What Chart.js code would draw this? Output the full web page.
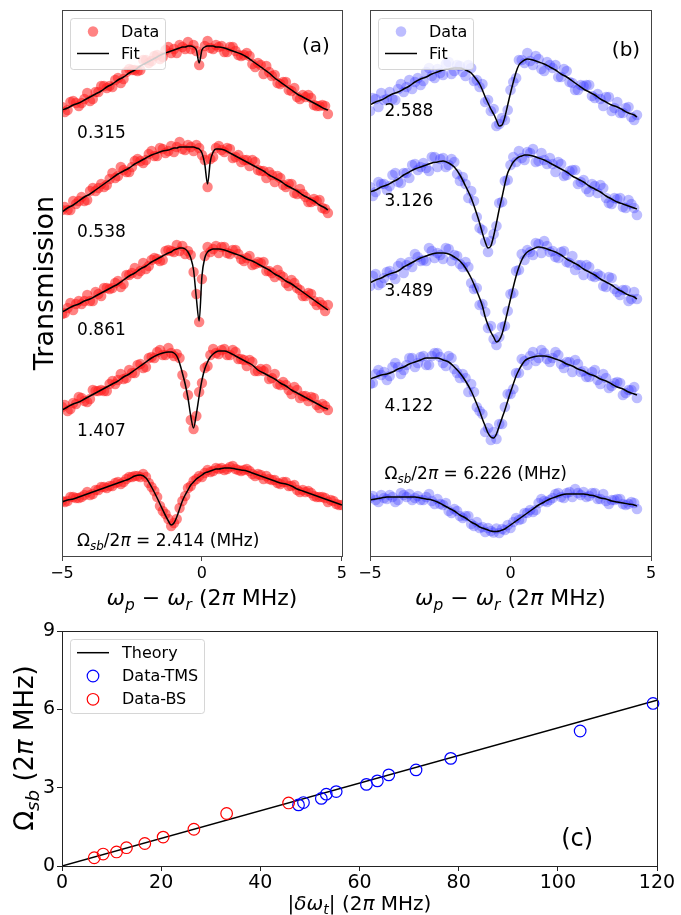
<!DOCTYPE html>
<html>
<head>
<meta charset="utf-8">
<script src="https://cdn.jsdelivr.net/npm/chart.js@4.4.0/dist/chart.umd.min.js"></script>
<style>
html, body { margin: 0; padding: 0; background: #fff; }
#fig { position: relative; width: 681px; height: 915px; overflow: hidden; }
canvas { position: absolute; }
#ca { left: 0; top: 0; }
#cb { left: 350px; top: 0; }
#cc { left: 0; top: 610px; }
</style>
</head>
<body>
<div id="fig">
  <canvas id="ca" width="350" height="620"></canvas>
  <canvas id="cb" width="331" height="620"></canvas>
  <canvas id="cc" width="681" height="305"></canvas>
</div>
<script>
// probe detuning grid (2π MHz), shared by every sweep
const sweepX = [-5.0,-4.8,-4.6,-4.4,-4.2,-4.0,-3.8,-3.6,-3.4,-3.2,-3.0,-2.8,-2.6,-2.4,-2.2,-2.0,-1.8,-1.6,-1.4,-1.2,
  -1.1,-1.0,-0.9,-0.8,-0.7,-0.6,-0.5,-0.4,-0.3,-0.2,-0.1,0.0,0.1,0.2,0.3,0.4,0.5,0.6,
  0.8,1.0,1.2,1.4,1.6,1.8,2.0,2.2,2.4,2.6,2.8,3.0,3.2,3.4,3.6,3.8,4.0,4.2,4.4,4.5,4.6,4.8,5.0];
// interleaved points of the second pass over the wings
const sweepMid = [-4.9,-4.7,-4.5,-4.3,-4.1,-3.9,-3.7,-3.5,-3.3,-3.1,-2.9,-2.7,-2.5,-2.3,-2.1,-1.9,-1.7,-1.5,-1.3,
  0.7,0.9,1.1,1.3,1.5,1.7,1.9,2.1,2.3,2.5,2.7,2.9,3.1,3.3,3.5,3.7,3.9,4.1,4.3,4.7,4.9];

// vertical stacking of the five sweeps in each panel (top to bottom)
const stackOffsets = [4, 3, 2, 1, 0];

// coupling strengths Ω_sb/2π (MHz) for the stacked sweeps
const bsCoupling = [0.315, 0.538, 0.861, 1.407, 2.414];
const tmsCoupling = [2.588, 3.126, 3.489, 4.122, 6.226];

// (a) beam-splitter sweeps: fitted curves
const redFit1 = [0.46,0.48,0.51,0.53,0.56,0.59,0.62,0.65,0.69,0.72,0.76,0.79,0.83,0.86,0.90,0.93,0.96,0.99,1.02,1.04,
  1.05,1.06,1.07,1.08,1.09,1.09,1.10,1.10,1.09,1.06,0.93,1.06,1.09,1.10,1.10,1.10,1.09,1.09,
  1.08,1.06,1.04,1.02,0.99,0.95,0.91,0.87,0.83,0.78,0.74,0.70,0.66,0.62,0.59,0.56,0.53,0.50,0.47,0.46];
const redFit2 = [0.44,0.48,0.51,0.55,0.59,0.62,0.66,0.70,0.74,0.78,0.82,0.85,0.88,0.92,0.95,0.98,1.01,1.03,1.05,1.06,
  1.07,1.08,1.08,1.09,1.09,1.09,1.09,1.09,1.09,1.08,1.07,1.03,0.92,0.72,0.95,1.04,1.07,1.07,
  1.06,1.03,1.00,0.97,0.94,0.91,0.88,0.85,0.81,0.78,0.75,0.71,0.68,0.65,0.61,0.58,0.55,0.51,0.48,0.46];
const redFit3 = [0.44,0.47,0.50,0.52,0.55,0.57,0.60,0.63,0.66,0.69,0.72,0.76,0.80,0.83,0.87,0.90,0.94,0.97,1.00,1.03,
  1.04,1.06,1.07,1.08,1.08,1.07,1.04,0.98,0.86,0.58,0.35,0.80,0.98,1.04,1.06,1.07,1.07,1.07,
  1.06,1.04,1.02,1.00,0.97,0.95,0.92,0.89,0.86,0.82,0.79,0.75,0.72,0.68,0.64,0.60,0.56,0.52,0.48,0.46];
const redFit4 = [0.46,0.49,0.52,0.54,0.57,0.60,0.63,0.66,0.69,0.72,0.75,0.79,0.82,0.86,0.90,0.94,0.98,1.01,1.03,1.04,
  1.04,1.03,1.00,0.93,0.83,0.72,0.58,0.40,0.28,0.42,0.60,0.76,0.87,0.94,0.99,1.02,1.04,1.05,
  1.05,1.03,1.00,0.97,0.94,0.91,0.86,0.83,0.80,0.77,0.73,0.70,0.66,0.63,0.60,0.57,0.54,0.51,0.48,0.47];
const redFit5 = [0.54,0.56,0.57,0.59,0.61,0.63,0.65,0.67,0.69,0.71,0.73,0.75,0.77,0.80,0.81,0.78,0.69,0.58,0.46,0.35,
  0.31,0.33,0.39,0.47,0.55,0.61,0.66,0.71,0.74,0.77,0.79,0.81,0.83,0.84,0.85,0.86,0.87,0.87,
  0.88,0.88,0.87,0.86,0.85,0.83,0.81,0.79,0.77,0.75,0.73,0.72,0.70,0.67,0.65,0.63,0.61,0.59,0.57,0.56,
  0.55,0.53,0.51];

// (a) beam-splitter sweeps: measured transmission on sweepX
const redData1 = [0.49,0.46,0.55,0.50,0.57,0.55,0.64,0.70,0.68,0.69,0.78,0.77,0.87,0.86,0.86,0.96,0.95,1.01,0.99,1.09,
  1.03,1.07,1.03,1.11,1.09,1.07,1.14,1.07,1.11,1.05,0.91,1.02,1.10,1.15,1.08,1.07,1.11,1.09,
  1.04,1.09,1.05,1.00,1.03,0.92,0.93,0.82,0.84,0.81,0.72,0.74,0.65,0.59,0.61,0.61,0.51,0.50,0.50,0.42];
const redData2 = [0.46,0.46,0.55,0.55,0.55,0.65,0.65,0.72,0.71,0.83,0.80,0.86,0.84,0.95,0.95,0.96,1.05,1.00,1.07,1.05,
  1.10,1.04,1.09,1.14,1.07,1.06,1.11,1.09,1.05,1.11,1.08,1.01,0.96,0.69,0.97,0.99,1.08,1.10,
  1.04,1.07,0.99,0.94,0.96,0.96,0.86,0.85,0.84,0.74,0.78,0.69,0.72,0.62,0.62,0.54,0.57,0.56,0.47,0.43];
const redData3 = [0.42,0.48,0.46,0.55,0.55,0.55,0.64,0.60,0.68,0.68,0.75,0.72,0.81,0.88,0.85,0.87,0.96,0.97,0.96,1.06,
  1.05,1.04,1.11,1.05,1.10,1.02,1.05,1.01,0.84,0.62,0.34,0.77,1.00,1.09,1.04,1.07,1.10,1.03,
  1.09,1.02,1.06,0.97,0.98,0.91,0.94,0.94,0.85,0.79,0.81,0.73,0.76,0.68,0.60,0.63,0.55,0.54,0.45,0.51];
const redData4 = [0.49,0.45,0.53,0.59,0.55,0.57,0.65,0.66,0.65,0.75,0.76,0.77,0.86,0.83,0.92,0.89,0.99,1.04,1.01,1.08,
  1.03,1.00,1.02,0.98,0.81,0.72,0.61,0.36,0.27,0.40,0.64,0.73,0.88,0.90,1.01,1.07,1.03,1.02,
  1.07,1.01,1.04,0.97,0.90,0.94,0.85,0.85,0.77,0.82,0.71,0.71,0.62,0.66,0.60,0.55,0.58,0.48,0.50,0.46];
const redData5 = [0.55,0.55,0.59,0.58,0.61,0.61,0.66,0.69,0.68,0.70,0.74,0.74,0.79,0.80,0.79,0.79,0.69,0.59,0.45,0.37,
  0.30,0.33,0.37,0.48,0.55,0.60,0.68,0.70,0.75,0.77,0.80,0.79,0.83,0.86,0.84,0.85,0.88,0.87,
  0.86,0.89,0.87,0.85,0.87,0.82,0.82,0.77,0.77,0.76,0.72,0.74,0.70,0.66,0.66,0.65,0.60,0.59,0.58,0.54,
  0.56,0.52,0.51];

// (a) measured transmission on sweepMid
const redMid1 = [0.44,0.54,0.53,0.53,0.63,0.57,0.64,0.70,0.70,0.76,0.73,0.84,0.86,0.85,0.96,0.93,1.00,0.97,1.06,
  1.10,1.04,1.09,1.01,1.01,1.00,0.89,0.91,0.90,0.80,0.73,0.74,0.66,0.68,0.57,0.59,0.58,0.50,0.51];
const redMid2 = [0.49,0.46,0.52,0.59,0.56,0.68,0.68,0.69,0.77,0.78,0.89,0.84,0.89,0.97,0.93,1.02,1.00,1.08,1.03,
  1.06,1.08,0.98,1.01,0.96,0.90,0.94,0.85,0.78,0.81,0.80,0.71,0.72,0.63,0.67,0.59,0.54,0.55,0.48];
const redMid3 = [0.43,0.53,0.52,0.52,0.61,0.55,0.62,0.68,0.67,0.73,0.69,0.81,0.83,0.82,0.93,0.90,0.98,0.95,1.05,
  1.09,1.03,1.06,1.02,0.95,1.00,0.92,0.93,0.85,0.83,0.86,0.79,0.70,0.73,0.66,0.60,0.62,0.51,0.51];
const redMid4 = [0.51,0.47,0.52,0.58,0.54,0.66,0.65,0.65,0.72,0.72,0.82,0.78,0.83,0.91,0.88,0.98,0.98,1.06,1.01,
  1.06,1.01,1.06,0.97,0.96,0.96,0.85,0.87,0.87,0.78,0.72,0.74,0.66,0.69,0.58,0.60,0.59,0.51,0.52];
const redMid5 = [0.54,0.59,0.58,0.59,0.64,0.62,0.66,0.69,0.70,0.73,0.72,0.77,0.79,0.80,0.82,0.73,0.65,0.50,0.42,
  0.88,0.87,0.90,0.86,0.86,0.85,0.80,0.81,0.80,0.76,0.73,0.74,0.70,0.71,0.64,0.64,0.63,0.59,0.59,0.55,0.51];

// (b) two-mode-squeezing sweeps: fitted curves
const blueFit1 = [0.51,0.54,0.56,0.59,0.62,0.64,0.67,0.70,0.74,0.77,0.79,0.82,0.84,0.86,0.87,0.88,0.88,0.86,0.83,0.76,
  0.72,0.66,0.59,0.53,0.47,0.42,0.36,0.30,0.31,0.39,0.51,0.63,0.74,0.84,0.91,0.94,0.96,0.97,
  0.96,0.94,0.92,0.89,0.86,0.82,0.79,0.75,0.71,0.67,0.64,0.61,0.57,0.54,0.51,0.49,0.46,0.43,0.41,0.39];
const blueFit2 = [0.64,0.66,0.69,0.71,0.74,0.77,0.81,0.84,0.87,0.89,0.91,0.93,0.94,0.95,0.93,0.89,0.81,0.70,0.58,0.42,
  0.33,0.23,0.14,0.08,0.10,0.20,0.33,0.47,0.59,0.72,0.83,0.89,0.94,0.97,0.99,1.00,1.01,1.01,
  1.00,0.98,0.96,0.93,0.90,0.87,0.84,0.80,0.77,0.74,0.70,0.67,0.64,0.60,0.57,0.54,0.52,0.50,0.48,0.47];
const blueFit3 = [0.73,0.76,0.78,0.81,0.83,0.85,0.89,0.92,0.95,0.98,1.00,1.02,1.03,1.03,1.02,0.99,0.95,0.88,0.78,0.65,
  0.58,0.50,0.39,0.31,0.24,0.19,0.14,0.16,0.22,0.33,0.45,0.57,0.69,0.80,0.89,0.96,1.01,1.04,
  1.07,1.09,1.08,1.06,1.04,1.01,0.97,0.94,0.91,0.87,0.84,0.81,0.77,0.74,0.71,0.67,0.64,0.61,0.59,0.57];
const blueFit4 = [0.77,0.79,0.81,0.82,0.84,0.87,0.89,0.92,0.94,0.96,0.98,0.98,0.98,0.96,0.94,0.89,0.83,0.75,0.65,0.52,
  0.45,0.37,0.30,0.23,0.19,0.18,0.22,0.30,0.38,0.46,0.55,0.64,0.72,0.80,0.86,0.91,0.95,0.97,
  0.99,1.00,1.00,0.99,0.97,0.95,0.92,0.90,0.87,0.85,0.82,0.80,0.77,0.75,0.72,0.69,0.67,0.64,0.62,0.61];
const blueFit5 = [0.56,0.57,0.58,0.59,0.59,0.59,0.59,0.59,0.59,0.58,0.57,0.56,0.54,0.51,0.48,0.45,0.41,0.38,0.34,0.31,
  0.29,0.28,0.27,0.26,0.25,0.245,0.245,0.25,0.26,0.27,0.29,0.31,0.33,0.35,0.37,0.39,0.41,0.43,
  0.47,0.51,0.54,0.57,0.59,0.61,0.62,0.62,0.62,0.62,0.61,0.60,0.58,0.57,0.55,0.54,0.53,0.52,0.51,0.50];

// (b) measured transmission on sweepX
const blueData1 = [0.45,0.57,0.63,0.57,0.57,0.67,0.64,0.76,0.74,0.71,0.84,0.80,0.87,0.81,0.94,0.85,0.90,0.80,0.88,0.76,
  0.69,0.72,0.54,0.56,0.45,0.47,0.30,0.32,0.38,0.36,0.46,0.66,0.74,0.78,0.96,0.96,0.93,1.03,
  0.91,0.97,0.85,0.91,0.91,0.79,0.85,0.73,0.66,0.70,0.71,0.58,0.57,0.59,0.45,0.54,0.43,0.49,0.36,0.41];
const blueData2 = [0.69,0.64,0.72,0.66,0.81,0.74,0.83,0.78,0.92,0.89,0.88,0.99,0.89,0.98,0.91,0.94,0.75,0.72,0.65,0.39,
  0.28,0.26,0.14,0.04,0.15,0.22,0.30,0.53,0.54,0.75,0.76,0.91,0.99,0.94,1.05,0.98,0.96,1.04,
  1.07,0.95,0.96,0.98,0.84,0.92,0.81,0.86,0.72,0.76,0.64,0.70,0.71,0.58,0.52,0.57,0.49,0.56,0.48,0.41];
const blueData3 = [0.70,0.82,0.73,0.84,0.81,0.90,0.83,0.94,1.02,0.95,0.95,1.05,1.03,0.97,1.07,1.01,0.92,0.94,0.73,0.68,
  0.51,0.52,0.44,0.28,0.30,0.17,0.11,0.19,0.29,0.30,0.45,0.62,0.63,0.85,0.86,1.02,0.96,1.06,
  1.01,1.12,1.15,1.04,0.99,1.04,0.94,1.00,0.91,0.81,0.89,0.79,0.80,0.69,0.78,0.64,0.66,0.55,0.64,0.57];
const blueData4 = [0.72,0.82,0.81,0.76,0.89,0.89,0.86,0.98,0.89,0.99,0.91,1.00,1.03,0.93,1.00,0.87,0.78,0.78,0.72,0.49,
  0.45,0.42,0.24,0.28,0.16,0.24,0.17,0.32,0.32,0.49,0.62,0.62,0.67,0.83,0.83,0.97,0.95,0.91,
  1.04,0.98,1.03,0.94,1.04,0.92,0.94,0.84,0.92,0.85,0.79,0.86,0.72,0.78,0.70,0.74,0.61,0.66,0.69,0.58];
const blueData5 = [0.58,0.56,0.61,0.57,0.59,0.56,0.61,0.62,0.58,0.56,0.59,0.55,0.57,0.51,0.45,0.47,0.40,0.40,0.32,0.34,
  0.28,0.29,0.24,0.28,0.25,0.235,0.275,0.23,0.27,0.26,0.31,0.28,0.34,0.38,0.36,0.37,0.43,0.43,
  0.44,0.53,0.55,0.56,0.62,0.59,0.63,0.59,0.63,0.64,0.60,0.63,0.57,0.55,0.56,0.57,0.52,0.52,0.53,0.47];

// (b) measured transmission on sweepMid
const blueMid1 = [0.58,0.49,0.56,0.64,0.56,0.72,0.69,0.67,0.78,0.75,0.88,0.78,0.83,0.92,0.82,0.91,0.84,0.91,0.75,
  0.95,1.00,0.87,0.94,0.88,0.79,0.87,0.74,0.66,0.71,0.71,0.60,0.62,0.50,0.59,0.48,0.43,0.48,0.39];
const blueMid2 = [0.60,0.74,0.72,0.70,0.83,0.73,0.83,0.91,0.86,0.93,0.85,0.99,0.97,0.89,0.97,0.82,0.79,0.58,0.55,
  1.03,0.94,1.03,0.92,0.92,0.94,0.80,0.85,0.86,0.74,0.67,0.72,0.63,0.68,0.53,0.58,0.58,0.48,0.52];
const blueMid3 = [0.80,0.71,0.78,0.85,0.77,0.93,0.91,0.89,0.99,0.96,1.08,0.98,1.01,1.08,0.95,1.00,0.89,0.89,0.67,
  1.04,1.13,1.03,1.10,1.05,0.98,1.05,0.93,0.86,0.91,0.91,0.80,0.82,0.70,0.79,0.67,0.61,0.66,0.57];
const blueMid4 = [0.73,0.86,0.84,0.80,0.93,0.82,0.91,0.98,0.93,1.00,0.91,1.03,0.99,0.90,0.98,0.83,0.82,0.64,0.64,
  1.00,0.95,1.06,0.97,0.98,1.01,0.88,0.94,0.96,0.84,0.79,0.84,0.76,0.82,0.68,0.73,0.73,0.63,0.66];
const blueMid5 = [0.60,0.54,0.58,0.61,0.54,0.63,0.59,0.56,0.60,0.56,0.62,0.52,0.52,0.53,0.43,0.45,0.38,0.40,0.30,
  0.46,0.46,0.57,0.54,0.58,0.63,0.58,0.64,0.67,0.61,0.59,0.63,0.57,0.62,0.52,0.56,0.57,0.51,0.54];

// (c) coupling vs detuning
const theoryX = [0, 120];
const theoryY = [0, 6.35];
const tmsX = [47.7, 48.7, 52.3, 53.3, 55.3, 61.4, 63.6, 65.9, 71.4, 78.4, 104.5, 119.2];
const tmsY = [2.34, 2.43, 2.588, 2.75, 2.85, 3.126, 3.26, 3.489, 3.68, 4.122, 5.17, 6.226];
const bsX = [6.5, 8.3, 11.0, 13.0, 16.7, 20.4, 26.6, 33.2, 45.7];
const bsY = [0.315, 0.458, 0.538, 0.70, 0.861, 1.107, 1.407, 2.01, 2.414];

const FONT = '"DejaVu Sans"';
Chart.defaults.font.family = FONT;
Chart.defaults.color = '#000';

const minus = v => (v < 0 ? '\u2212' + Math.abs(v) : String(v));

function toPts(xs, ys, off) {
  return ys.map((y, i) => ({ x: xs[i], y: y + off }));
}

// mathtext-like runs: [text, style] where style has 'i' (italic) and/or 's' (subscript)
function segFont(st, size) {
  const s = st.includes('s') ? size * 0.7 : size;
  return (st.includes('i') ? 'italic ' : '') + s.toFixed(1) + 'px ' + FONT;
}
function drawRich(ctx, segs, x, y, size, align, rot) {
  ctx.save();
  ctx.translate(x, y);
  if (rot) ctx.rotate(rot);
  let w = 0;
  segs.forEach(([t, st]) => { ctx.font = segFont(st, size); w += ctx.measureText(t).width; });
  let cx = align === 'center' ? -w / 2 : 0;
  ctx.textAlign = 'left';
  ctx.textBaseline = 'alphabetic';
  ctx.fillStyle = '#000';
  segs.forEach(([t, st]) => {
    ctx.font = segFont(st, size);
    ctx.fillText(t, cx, st.includes('s') ? size * 0.22 : 0);
    cx += ctx.measureText(t).width;
  });
  ctx.restore();
}

const omegaSb = [['\u03A9', ''], ['sb', 'is']];
const xTitleTop = [['\u03C9', 'i'], ['p', 'is'], [' \u2212 ', ''], ['\u03C9', 'i'], ['r', 'is'], [' (2', ''], ['\u03C0', 'i'], [' MHz)', '']];

// frame, legend, annotations and axis titles drawn over the plot
const decor = {
  id: 'decor',
  afterDraw(chart, args, o) {
    const ctx = chart.ctx, ca = chart.chartArea;
    const sx = chart.scales.x, sy = chart.scales.y;
    ctx.save();
    ctx.strokeStyle = o.frameColor || '#333';
    ctx.lineWidth = 1;
    ctx.strokeRect(Math.round(ca.left) + 0.5, Math.round(ca.top) + 0.5, Math.round(ca.right - ca.left), Math.round(ca.bottom - ca.top));

    if (o.legend) {
      const L = o.legend;
      const bx = ca.left + 8, by = ca.top + 8;
      ctx.beginPath();
      ctx.roundRect(bx + 0.5, by + 0.5, L.w, L.h, 3);
      ctx.fillStyle = 'rgba(255,255,255,0.8)';
      ctx.fill();
      ctx.strokeStyle = 'rgba(204,204,204,0.8)';
      ctx.stroke();
      L.items.forEach((it, k) => {
        const ry = by + L.rows[k];
        if (it.kind === 'line') {
          ctx.beginPath();
          ctx.moveTo(bx + 7, ry);
          ctx.lineTo(bx + 39, ry);
          ctx.strokeStyle = it.color;
          ctx.lineWidth = 1.5;
          ctx.stroke();
        } else {
          ctx.beginPath();
          ctx.arc(bx + 23, ry, it.r, 0, Math.PI * 2);
          if (it.kind === 'dot') { ctx.fillStyle = it.color; ctx.fill(); }
          else { ctx.strokeStyle = it.color; ctx.lineWidth = 1.2; ctx.stroke(); }
        }
        ctx.fillStyle = '#000';
        ctx.font = L.size + 'px ' + FONT;
        ctx.textAlign = 'left';
        ctx.textBaseline = 'middle';
        ctx.fillText(it.label, bx + L.textX, ry + 1);
      });
    }

    (o.notes || []).forEach(n => {
      drawRich(ctx, n.segs, sx.getPixelForValue(n.x), sy.getPixelForValue(n.y) + n.size * 0.36, n.size, 'left');
    });

    if (o.tag) {
      ctx.font = o.tag.size + 'px ' + FONT;
      ctx.fillStyle = '#000';
      ctx.textAlign = 'center';
      ctx.textBaseline = 'middle';
      ctx.fillText(o.tag.text, sx.getPixelForValue(o.tag.x), sy.getPixelForValue(o.tag.y));
    }

    if (o.xTitle) drawRich(ctx, o.xTitle.segs, (ca.left + ca.right) / 2, o.xTitle.base, o.xTitle.size, 'center');
    if (o.yTitle) drawRich(ctx, o.yTitle.segs, o.yTitle.base, o.yTitle.mid, o.yTitle.size, 'center', -Math.PI / 2);
    ctx.restore();
  }
};

function sweepPanel(id, fits, datas, mids, color, radius, couplings, noteX, noteYs, opts) {
  const datasets = [];
  fits.forEach((ys, k) => datasets.push({
    data: toPts(sweepX, ys, stackOffsets[k]), showLine: true, borderColor: '#000', borderWidth: 1.5,
    cubicInterpolationMode: 'monotone', pointRadius: 0, order: 0
  }));
  datas.forEach((ys, k) => datasets.push({
    data: toPts(sweepX, ys, stackOffsets[k]), backgroundColor: color, borderWidth: 0,
    pointRadius: radius, order: 1
  }));
  mids.forEach((ys, k) => datasets.push({
    data: toPts(sweepMid, ys, stackOffsets[k]), backgroundColor: color, borderWidth: 0,
    pointRadius: radius, order: 1
  }));
  const notes = couplings.map((c, k) => {
    const last = k === couplings.length - 1;
    const segs = last
      ? omegaSb.concat([['/2', ''], ['\u03C0', 'i'], [' = ' + c.toFixed(3) + ' (MHz)', '']])
      : [[c.toFixed(3), '']];
    return { segs, x: noteX, y: noteYs[k], size: 17 };
  });
  return new Chart(document.getElementById(id), {
    type: 'scatter',
    data: { datasets },
    options: {
      responsive: false,
      animation: false,
      events: [],
      layout: { padding: { top: 10, right: opts.padRight, left: 0, bottom: 0 } },
      plugins: {
        legend: { display: false },
        tooltip: { enabled: false },
        decor: {
          frameColor: '#444',
          legend: {
            w: 95, h: 51, rows: [13.5, 35.5], textX: 51, size: 16,
            items: [
              { kind: 'dot', color: color, r: radius, label: 'Data' },
              { kind: 'line', color: '#000', label: 'Fit' }
            ]
          },
          notes,
          tag: opts.tag,
          xTitle: { segs: xTitleTop, base: 605, size: 22 },
          yTitle: opts.yTitle
        }
      },
      scales: {
        x: {
          type: 'linear', min: -5, max: 5,
          afterFit: s => { s.height = 64; },
          border: { display: false },
          grid: { drawOnChartArea: false, tickLength: 5, color: '#444' },
          ticks: { stepSize: 5, padding: 3, font: { size: 16 }, callback: minus }
        },
        y: {
          min: 0, max: 5.46,
          afterFit: s => { s.width = opts.yWidth; },
          border: { display: false },
          grid: { display: false },
          ticks: { display: false }
        }
      }
    },
    plugins: [decor]
  });
}

sweepPanel('ca',
  [redFit1, redFit2, redFit3, redFit4, redFit5],
  [redData1, redData2, redData3, redData4, redData5],
  [redMid1, redMid2, redMid3, redMid4, redMid5],
  'rgba(255,30,30,0.55)', 5.2, bsCoupling, -4.46, [4.243, 3.252, 2.268, 1.257, 0.16],
  {
    padRight: 8, yWidth: 62,
    tag: { text: '(a)', x: 4.07, y: 5.09, size: 20 },
    yTitle: { segs: [['Transmission', '']], base: 53, mid: 283, size: 27 }
  });

sweepPanel('cb',
  [blueFit1, blueFit2, blueFit3, blueFit4, blueFit5],
  [blueData1, blueData2, blueData3, blueData4, blueData5],
  [blueMid1, blueMid2, blueMid3, blueMid4, blueMid5],
  'rgba(50,50,255,0.32)', 5.3, tmsCoupling, -4.48, [4.463, 3.557, 2.657, 1.515, 0.827],
  {
    padRight: 30, yWidth: 20,
    tag: { text: '(b)', x: 4.11, y: 5.05, size: 20 }
  });

new Chart(document.getElementById('cc'), {
  type: 'scatter',
  data: {
    datasets: [
      { label: 'Theory', data: theoryX.map((x, i) => ({ x, y: theoryY[i] })), showLine: true,
        borderColor: '#000', borderWidth: 1.5, pointRadius: 0, order: 2 },
      { label: 'Data-TMS', data: tmsX.map((x, i) => ({ x, y: tmsY[i] })), borderColor: '#0000ff',
        backgroundColor: 'rgba(0,0,0,0)', borderWidth: 1.2, pointRadius: 5.8, order: 1, clip: false },
      { label: 'Data-BS', data: bsX.map((x, i) => ({ x, y: bsY[i] })), borderColor: '#ff0000',
        backgroundColor: 'rgba(0,0,0,0)', borderWidth: 1.2, pointRadius: 5.8, order: 0, clip: false }
    ]
  },
  options: {
    responsive: false,
    animation: false,
    events: [],
    layout: { padding: { top: 21, right: 24, left: 0, bottom: 0 } },
    plugins: {
      legend: { display: false },
      tooltip: { enabled: false },
      decor: {
        frameColor: '#222',
        legend: {
          w: 134, h: 74, rows: [13.7, 37, 60.3], textX: 52, size: 16,
          items: [
            { kind: 'line', color: '#000', label: 'Theory' },
            { kind: 'ring', color: '#0000ff', r: 5.8, label: 'Data-TMS' },
            { kind: 'ring', color: '#ff0000', r: 5.8, label: 'Data-BS' }
          ]
        },
        tag: { text: '(c)', x: 103.9, y: 1.0, size: 24 },
        xTitle: { segs: [['|', ''], ['\u03B4\u03C9', 'i'], ['t', 'is'], ['|', ''], [' (2', ''], ['\u03C0', 'i'], [' MHz)', '']], base: 300, size: 20 },
        yTitle: { segs: omegaSb.concat([[' (2', ''], ['\u03C0', 'i'], [' MHz)', '']]), base: 33, mid: 138, size: 26 }
      }
    },
    scales: {
      x: {
        type: 'linear', min: 0, max: 120,
        afterFit: s => { s.height = 49; },
        border: { display: false },
        grid: { drawOnChartArea: false, tickLength: 5, color: '#222' },
        ticks: { stepSize: 20, padding: 1, font: { size: 19 } }
      },
      y: {
        min: 0, max: 9,
        afterFit: s => { s.width = 62; },
        border: { display: false },
        grid: { drawOnChartArea: false, tickLength: 5, color: '#222' },
        ticks: { stepSize: 3, padding: 2, font: { size: 19 } }
      }
    }
  },
  plugins: [decor]
});
</script>
</body>
</html>
